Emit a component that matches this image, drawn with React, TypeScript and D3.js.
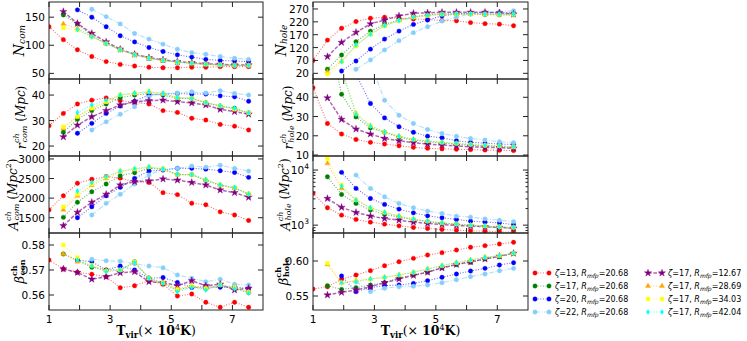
import React from "react";
import * as d3 from "d3";

const _ = null;
const TVIR = [1.0, 1.47, 1.93, 2.4, 2.87, 3.33, 3.8, 4.27, 4.73, 5.2, 5.67, 6.13, 6.6, 7.07, 7.53];

// series order: z13, z17, z20, z22 (R=20.68), then z17 with R=12.67, 28.69, 34.03, 42.04
const ZETA = [13, 17, 20, 22, 17, 17, 17, 17];
const RMFP = ["20.68", "20.68", "20.68", "20.68", "12.67", "28.69", "34.03", "42.04"];

const N_COM = [
  [133, 110, 92, 80, 71, 66, 63, 61, 60, 60, 61, 61, 62, 62, 62],
  [_, 154, 138, 117, 103, 92, 83, 77, 73, 70, 68, 66, 65, 64, 64],
  [_, _, 163, 150, 133, 117, 106, 96, 89, 83, 79, 75, 73, 72, 71],
  [_, _, _, 164, 151, 138, 121, 111, 102, 93, 87, 84, 80, 77, 75],
  [_, 160, 139, 121, 106, 93, 84, 78, 74, 71, 69, 67, 66, 65, 65],
  [_, 138, 130, 116, 103, 92, 83, 77, 73, 70, 68, 66, 65, 64, 64],
  [_, 131, 127, 115, 103, 92, 83, 77, 73, 70, 68, 66, 65, 64, 64],
  [_, _, 128, 115, 103, 92, 83, 77, 73, 70, 68, 66, 65, 64, 64],
];

const R_COM = [
  [28.0, 32.8, 36.5, 38.0, 38.9, 37.8, 37.1, 36.5, 33.9, 33.2, 30.9, 30.2, 28.5, 27.8, 26.3],
  [_, 25.4, 30.5, 33.9, 36.5, 38.9, 40.0, 40.6, 40.0, 38.7, 38.7, 37.0, 35.7, 34.8, 33.0],
  [_, _, 25.0, 28.9, 32.8, 35.7, 37.6, 40.0, 40.4, 40.6, 40.4, 40.4, 39.7, 39.3, 37.6],
  [_, _, _, 26.3, 29.5, 32.5, 35.4, 39.3, 40.6, 40.8, 41.3, 40.8, 41.7, 40.6, 40.0],
  [_, 23.6, 28.2, 31.5, 33.9, 36.1, 37.4, 37.8, 38.0, 37.4, 36.9, 36.1, 34.4, 33.5, 32.5],
  [_, 27.0, 31.8, 34.8, 37.2, 40.0, 40.6, 41.3, 40.6, 39.0, 38.7, 37.0, 35.7, 34.4, 33.0],
  [_, 27.5, 31.5, 34.8, 37.4, 40.2, 40.8, 41.3, 40.6, 39.0, 38.7, 37.0, 35.7, 34.4, 33.0],
  [_, _, 33.2, 36.1, 38.0, 40.0, 40.8, 41.3, 40.6, 39.0, 38.7, 37.0, 35.7, 34.8, 33.0],
];

const A_COM = [
  [1700, 2060, 2380, 2480, 2550, 2510, 2420, 2400, 2140, 2090, 1870, 1830, 1650, 1570, 1430],
  [_, 1510, 1893, 2163, 2360, 2571, 2648, 2760, 2735, 2600, 2600, 2450, 2330, 2260, 2100],
  [_, _, 1500, 1780, 2062, 2275, 2505, 2690, 2715, 2760, 2760, 2740, 2700, 2655, 2530],
  [_, _, _, 1570, 1867, 2097, 2360, 2590, 2740, 2760, 2820, 2790, 2840, 2760, 2690],
  [_, 1296, 1637, 1893, 2097, 2334, 2418, 2440, 2487, 2460, 2400, 2334, 2207, 2140, 2020],
  [_, 1700, 2060, 2330, 2500, 2680, 2730, 2790, 2740, 2600, 2600, 2460, 2330, 2260, 2100],
  [_, 1780, 2097, 2360, 2530, 2690, 2742, 2800, 2740, 2600, 2600, 2470, 2340, 2270, 2110],
  [_, _, 2181, 2400, 2550, 2690, 2750, 2800, 2740, 2610, 2600, 2470, 2340, 2270, 2100],
];

const B_COM = [
  [0.574, 0.5704, 0.5691, 0.5683, 0.5673, 0.5629, 0.5637, 0.5657, 0.5643, 0.5596, 0.5604, 0.5571, 0.5551, 0.5571, 0.5551],
  [_, 0.5764, 0.574, 0.5711, 0.57, 0.57, 0.5733, 0.5667, 0.5647, 0.562, 0.5633, 0.5625, 0.5636, 0.5627, 0.561],
  [_, _, 0.574, 0.5733, 0.57, 0.5716, 0.57, 0.5667, 0.567, 0.565, 0.563, 0.5633, 0.5631, 0.5633, 0.5625],
  [_, _, _, 0.5743, 0.5737, 0.5735, 0.5725, 0.5716, 0.5709, 0.568, 0.5667, 0.5653, 0.5663, 0.5643, 0.564],
  [_, 0.5704, 0.569, 0.5663, 0.5673, 0.5689, 0.5693, 0.5653, 0.565, 0.5637, 0.5657, 0.5637, 0.5643, 0.562, 0.5627],
  [_, 0.5764, 0.5733, 0.5716, 0.57, 0.57, 0.573, 0.5667, 0.5647, 0.5625, 0.5636, 0.5628, 0.564, 0.563, 0.5612],
  [_, 0.58, 0.575, 0.572, 0.5695, 0.57, 0.5733, 0.5667, 0.565, 0.5622, 0.5636, 0.5626, 0.564, 0.563, 0.5612],
  [_, _, 0.574, 0.5716, 0.5693, 0.57, 0.573, 0.5667, 0.5647, 0.5613, 0.563, 0.562, 0.564, 0.5625, 0.5608],
];

const N_HOLE = [
  [70, 149, 195, 221, 234, 238, 234, 231, 229, 225, 224, 217, 213, 211, 205],
  [_, 36, 91, 143, 184, 210, 227, 240, 247, 251, 251, 251, 248, 247, 247],
  [_, _, 29, 68, 114, 153, 184, 210, 227, 243, 251, 253, 255, 255, 255],
  [_, _, _, 36, 72, 111, 147, 178, 201, 223, 238, 251, 256, 259, 263],
  [_, 85, 140, 179, 212, 227, 243, 253, 255, 257, 257, 257, 257, 255, 250],
  [_, 26, 68, 128, 172, 205, 225, 238, 244, 249, 250, 250, 249, 248, 248],
  [_, 17, 65, 126, 172, 204, 224, 238, 244, 249, 250, 250, 249, 248, 248],
  [_, _, 65, 130, 172, 205, 225, 238, 245, 250, 251, 251, 250, 249, 249],
];

const R_HOLE = [
  [45, 26.4, 20.9, 18.1, 16.6, 15.7, 14.8, 14.0, 13.5, 13.2, 13.0, 12.8, 12.6, 12.5, 12.3],
  [_, 75, 41.6, 29.8, 24.1, 21.8, 19.2, 17.8, 16.9, 16.2, 15.7, 15.1, 14.7, 14.4, 14.0],
  [_, _, 80, 52, 36.8, 29.3, 24.7, 21.8, 19.8, 19.0, 17.4, 16.6, 16.2, 15.7, 15.5],
  [_, _, _, 90, 58, 38.5, 30.7, 26.4, 23.3, 21.2, 19.8, 18.6, 17.8, 16.9, 16.4],
  [_, 39.7, 28.5, 23.5, 20.9, 18.6, 17.4, 16.4, 15.7, 15.2, 14.7, 14.3, 14.0, 13.8, 13.5],
  [_, 110, 55, 31.6, 25.2, 22.0, 19.8, 18.1, 17.3, 16.6, 16.0, 15.5, 15.0, 14.7, 14.2],
  [_, 100, 54, 31.6, 25.2, 22.0, 19.8, 18.1, 17.3, 16.6, 16.0, 15.5, 15.0, 14.7, 14.2],
  [_, _, 54, 31.2, 25.0, 22.0, 19.8, 18.1, 17.3, 16.6, 16.0, 15.5, 15.0, 14.7, 14.2],
];

const A_HOLE = [
  [3770, 2065, 1520, 1270, 1134, 1043, 970, 907, 870, 835, 811, 788, 778, 755, 746],
  [_, 7550, 3610, 2480, 1875, 1565, 1400, 1250, 1160, 1085, 1040, 980, 940, 910, 870],
  [_, _, 9080, 4650, 3050, 2380, 1955, 1670, 1475, 1360, 1270, 1180, 1140, 1100, 1020],
  [_, _, _, 8100, 4650, 3270, 2480, 2065, 1800, 1630, 1460, 1400, 1300, 1230, 1160],
  [_, 3050, 2100, 1700, 1460, 1320, 1233, 1134, 1073, 1030, 987, 960, 940, 910, 880],
  [_, 13200, 4650, 2850, 2065, 1700, 1460, 1285, 1180, 1100, 1043, 1000, 960, 930, 908],
  [_, 16000, 5340, 2900, 2065, 1700, 1460, 1285, 1180, 1100, 1043, 1000, 960, 930, 908],
  [_, _, 5120, 2850, 2065, 1700, 1460, 1285, 1180, 1100, 1043, 1000, 960, 930, 908],
];

const B_HOLE = [
  [0.56, 0.5633, 0.5739, 0.58, 0.5862, 0.5933, 0.599, 0.6038, 0.6086, 0.6119, 0.6157, 0.6196, 0.6219, 0.6243, 0.6267],
  [_, 0.5648, 0.5595, 0.5619, 0.5657, 0.569, 0.5757, 0.58, 0.5843, 0.5905, 0.595, 0.598, 0.603, 0.606, 0.611],
  [_, _, 0.5786, 0.5562, 0.5619, 0.5648, 0.5657, 0.568, 0.5719, 0.5767, 0.5814, 0.5857, 0.5895, 0.5943, 0.5976],
  [_, _, _, 0.5705, 0.5562, 0.561, 0.5633, 0.564, 0.5657, 0.569, 0.5733, 0.5776, 0.5814, 0.586, 0.5895],
  [_, 0.5514, 0.5552, 0.5586, 0.5633, 0.569, 0.5743, 0.5795, 0.584, 0.59, 0.595, 0.599, 0.603, 0.607, 0.611],
  [_, 0.595, 0.569, 0.5719, 0.5743, 0.5767, 0.58, 0.5838, 0.5886, 0.5933, 0.5976, 0.6014, 0.6053, 0.6076, 0.611],
  [_, 0.5967, 0.569, 0.5719, 0.5743, 0.5767, 0.58, 0.5838, 0.5886, 0.5933, 0.5976, 0.6014, 0.6053, 0.6076, 0.611],
  [_, _, 0.569, 0.5705, 0.5743, 0.5767, 0.58, 0.5838, 0.5886, 0.5933, 0.5976, 0.6014, 0.6053, 0.6076, 0.611],
];

const X_TICKS = [1, 2, 3, 4, 5, 6, 7];
const X_LABELS = [1, 3, 5, 7];

// styles
const COLORS = ["#ff0000", "#008000", "#0000ff", "#87cefa", "#800080", "#ffa500", "#ffff00", "#00ffff"];
const DASHES = ["1,1.65", "1,1.65", "1,1.65", "5,1.6,1,1.6", "3.7,1.6", "1,1.65", "1,1.65", "1,1.65"];
const MARKERS = ["o", "o", "o", "o", "*", "^", "s", "d"];
const LW = [1.1, 1.1, 1.1, 1.2, 1.5, 1.1, 1.1, 1.1];

const COLS = [
  { x0: 49, x1: 263 },
  { x0: 313, x1: 528 },
];
const ROWS = [
  [2, 79],
  [79, 156],
  [156, 233],
  [233, 310],
];

const SERIF = "'DejaVu Serif', serif";
const SANS = "'DejaVu Sans', sans-serif";

function Marker({ type, x, y, color }: any) {
  if (type === "o") return <circle cx={x} cy={y} r={2.2} fill={color} stroke={color} strokeWidth={0.4} />;
  let path = "";
  if (type === "*") path = d3.symbol().type(d3.symbolStar).size(16)() as string;
  if (type === "^") path = d3.symbol().type(d3.symbolTriangle).size(11)() as string;
  if (type === "s") path = d3.symbol().type(d3.symbolSquare).size(13)() as string;
  if (type === "d") path = "M0,-2.6L1.6,0L0,2.6L-1.6,0Z";
  return <path d={path} transform={`translate(${x},${y})`} fill={color} stroke={color} strokeWidth={0.4} />;
}

const LABELS: any = {
  ncom: (
    <>
      <tspan fontStyle="italic" fontSize={14}>N</tspan>
      <tspan fontStyle="italic" fontSize={9} dy={3}>com</tspan>
    </>
  ),
  rcom: (
    <>
      <tspan fontStyle="italic" fontSize={13}>r</tspan>
      <tspan fontStyle="italic" fontSize={8} dy={-5}>ch</tspan>
      <tspan fontStyle="italic" fontSize={8} dx={-9} dy={8}>com</tspan>
      <tspan fontSize={12} dy={-3}>{" ("}</tspan>
      <tspan fontStyle="italic" fontSize={12}>Mpc</tspan>
      <tspan fontSize={12}>)</tspan>
    </>
  ),
  acom: (
    <>
      <tspan fontStyle="italic" fontSize={13}>A</tspan>
      <tspan fontStyle="italic" fontSize={8} dy={-5}>ch</tspan>
      <tspan fontStyle="italic" fontSize={8} dx={-9} dy={8}>com</tspan>
      <tspan fontSize={12} dy={-3}>{" ("}</tspan>
      <tspan fontStyle="italic" fontSize={12}>Mpc</tspan>
      <tspan fontSize={8} dy={-5}>2</tspan>
      <tspan fontSize={12} dy={5}>)</tspan>
    </>
  ),
  bcom: (
    <>
      <tspan fontStyle="italic" fontSize={13}>β</tspan>
      <tspan fontWeight="bold" fontSize={8} dy={-5}>ch</tspan>
      <tspan fontWeight="bold" fontSize={8} dx={-10} dy={8}>con</tspan>
    </>
  ),
  nhole: (
    <>
      <tspan fontStyle="italic" fontSize={14}>N</tspan>
      <tspan fontStyle="italic" fontSize={9} dy={3}>hole</tspan>
    </>
  ),
  rhole: (
    <>
      <tspan fontStyle="italic" fontSize={13}>r</tspan>
      <tspan fontStyle="italic" fontSize={8} dy={-5}>ch</tspan>
      <tspan fontStyle="italic" fontSize={8} dx={-9} dy={8}>hole</tspan>
      <tspan fontSize={12} dy={-3}>{" ("}</tspan>
      <tspan fontStyle="italic" fontSize={12}>Mpc</tspan>
      <tspan fontSize={12}>)</tspan>
    </>
  ),
  ahole: (
    <>
      <tspan fontStyle="italic" fontSize={13}>A</tspan>
      <tspan fontStyle="italic" fontSize={8} dy={-5}>ch</tspan>
      <tspan fontStyle="italic" fontSize={8} dx={-9} dy={8}>hole</tspan>
      <tspan fontSize={12} dy={-3}>{" ("}</tspan>
      <tspan fontStyle="italic" fontSize={12}>Mpc</tspan>
      <tspan fontSize={8} dy={-5}>2</tspan>
      <tspan fontSize={12} dy={5}>)</tspan>
    </>
  ),
  bhole: (
    <>
      <tspan fontStyle="italic" fontSize={13}>β</tspan>
      <tspan fontWeight="bold" fontSize={8} dy={-5}>ch</tspan>
      <tspan fontWeight="bold" fontSize={8} dx={-10} dy={8}>hole</tspan>
    </>
  ),
};

const PANELS: any[] = [
  { key: "ncom", col: 0, row: 0, data: N_COM, domain: [40, 177], ticks: [50, 100, 150], fmt: (d: number) => String(d), lx: 19 },
  { key: "rcom", col: 0, row: 1, data: R_COM, domain: [16.1, 46.3], ticks: [20, 30, 40], fmt: (d: number) => String(d), lx: 21 },
  { key: "acom", col: 0, row: 2, data: A_COM, domain: [1110, 3075], ticks: [1500, 2000, 2500, 3000], fmt: (d: number) => String(d), lx: 13 },
  { key: "bcom", col: 0, row: 3, data: B_COM, domain: [0.554, 0.5848], ticks: [0.56, 0.57, 0.58], fmt: (d: number) => d.toFixed(2), lx: 19 },
  { key: "nhole", col: 1, row: 0, data: N_HOLE, domain: [-2, 297], ticks: [20, 70, 120, 170, 220, 270], fmt: (d: number) => String(d), lx: 281 },
  { key: "rhole", col: 1, row: 1, data: R_HOLE, domain: [9.5, 49.5], ticks: [10, 20, 30, 40], fmt: (d: number) => String(d), lx: 288 },
  { key: "ahole", col: 1, row: 2, data: A_HOLE, domain: [720, 18000], ticks: [1000, 10000], log: true, fmt: null, lx: 285 },
  { key: "bhole", col: 1, row: 3, data: B_HOLE, domain: [0.53, 0.64], ticks: [0.55, 0.6], fmt: (d: number) => d.toFixed(2), lx: 283 },
];

function Panel({ p }: any) {
  const { x0, x1 } = COLS[p.col];
  const [y0, y1] = ROWS[p.row];
  const x = d3.scaleLinear().domain([1, 8]).range([x0, x1]);
  const y: any = p.log
    ? d3.scaleLog().domain(p.domain).range([y1, y0])
    : d3.scaleLinear().domain(p.domain).range([y1, y0]);
  const clipId = `clip-${p.key}`;
  const line = d3
    .line<any>()
    .x((d) => x(d[0]))
    .y((d) => y(d[1]));

  const minor: number[] = [];
  if (p.log) {
    for (const dec of [100, 1000, 10000]) {
      for (let k = 2; k <= 9; k++) {
        const v = dec * k;
        if (v > p.domain[0] && v < p.domain[1]) minor.push(v);
      }
    }
  }
  const stroke = "#222";
  return (
    <g>
      <clipPath id={clipId}>
        <rect x={x0} y={y0} width={x1 - x0} height={y1 - y0} />
      </clipPath>
      <g clipPath={`url(#${clipId})`}>
        {p.data.map((vals: any[], si: number) => {
          const pts = TVIR.map((t, i) => [t, vals[i]]).filter((d) => d[1] !== null);
          return (
            <g key={si}>
              <path
                d={line(pts) as string}
                fill="none"
                stroke={COLORS[si]}
                strokeWidth={LW[si]}
                strokeDasharray={DASHES[si]}
                strokeOpacity={0.6}
              />
              {pts.map((d, i) => (
                <Marker key={i} type={MARKERS[si]} x={x(d[0])} y={y(d[1])} color={COLORS[si]} />
              ))}
            </g>
          );
        })}
      </g>
      <rect x={x0} y={y0} width={x1 - x0} height={y1 - y0} fill="none" stroke={stroke} strokeWidth={1} />
      {X_TICKS.map((t) => (
        <g key={t}>
          <line x1={x(t)} x2={x(t)} y1={y1} y2={y1 - 5} stroke={stroke} />
          <line x1={x(t)} x2={x(t)} y1={y0} y2={y0 + 5} stroke={stroke} />
        </g>
      ))}
      {p.ticks.map((t: number) => (
        <g key={t}>
          <line x1={x0} x2={x0 + 5} y1={y(t)} y2={y(t)} stroke={stroke} />
          <line x1={x1} x2={x1 - 5} y1={y(t)} y2={y(t)} stroke={stroke} />
          {p.log ? (
            <text x={x0 - 4} y={y(t) + 4} textAnchor="end" fontFamily={SANS} fontSize={10.5}>
              <tspan>10</tspan>
              <tspan fontSize={7.5} dy={-5}>{Math.round(Math.log10(t))}</tspan>
            </text>
          ) : (
            <text x={x0 - 4} y={y(t)} dominantBaseline="central" textAnchor="end" fontFamily={SANS} fontSize={10.5}>
              {p.fmt(t)}
            </text>
          )}
        </g>
      ))}
      {minor.map((t) => (
        <g key={t}>
          <line x1={x0} x2={x0 + 2.5} y1={y(t)} y2={y(t)} stroke={stroke} />
          <line x1={x1} x2={x1 - 2.5} y1={y(t)} y2={y(t)} stroke={stroke} />
        </g>
      ))}
      {p.row === 3 &&
        X_LABELS.map((t) => (
          <text key={t} x={x(t)} y={y1 + 8.5} textAnchor="middle" dominantBaseline="central" fontFamily={SANS} fontSize={10.5}>
            {t}
          </text>
        ))}
      <text
        transform={`translate(${p.lx},${(y0 + y1) / 2}) rotate(-90)`}
        textAnchor="middle"
        dominantBaseline="central"
        fontFamily={SERIF}
      >
        {LABELS[p.key]}
      </text>
    </g>
  );
}

function XLabel({ cx }: any) {
  return (
    <text x={cx} y={335} textAnchor="middle" fontFamily={SERIF} fontSize={12.5}>
      <tspan fontWeight="bold">T</tspan>
      <tspan fontWeight="bold" fontSize={8.5} dy={2.5}>vir</tspan>
      <tspan dy={-2.5}>(</tspan>
      <tspan>× </tspan>
      <tspan fontWeight="bold">10</tspan>
      <tspan fontSize={8} dy={-5}>4</tspan>
      <tspan fontWeight="bold" dy={5}>K</tspan>
      <tspan>)</tspan>
    </text>
  );
}

function LegendItem({ si, lx, ly }: any) {
  return (
    <g>
      <line x1={lx} x2={lx + 14} y1={ly} y2={ly} stroke={COLORS[si]} strokeWidth={LW[si]} strokeDasharray={DASHES[si]} strokeOpacity={0.6} />
      <Marker type={MARKERS[si]} x={lx} y={ly} color={COLORS[si]} />
      <Marker type={MARKERS[si]} x={lx + 14} y={ly} color={COLORS[si]} />
      <text x={lx + 20} y={ly} dominantBaseline="central" fontFamily={SANS} fontSize={8}>
        <tspan fontStyle="italic">ζ</tspan>
        <tspan>={ZETA[si]}, </tspan>
        <tspan fontStyle="italic">R</tspan>
        <tspan fontStyle="italic" fontSize={6} dy={2}>mfp</tspan>
        <tspan dy={-2}>={RMFP[si]}</tspan>
      </text>
    </g>
  );
}

export default function App() {
  return (
    <svg width={747} height={341} style={{ position: "absolute", left: 0, top: 0, background: "#fff" }}>
      {PANELS.map((p) => (
        <Panel key={p.key} p={p} />
      ))}
      <XLabel cx={(COLS[0].x0 + COLS[0].x1) / 2} />
      <XLabel cx={(COLS[1].x0 + COLS[1].x1) / 2} />
      {[0, 1, 2, 3].map((i) => (
        <LegendItem key={i} si={i} lx={535} ly={273 + i * 13} />
      ))}
      {[4, 5, 6, 7].map((i) => (
        <LegendItem key={i} si={i} lx={648} ly={273 + (i - 4) * 13} />
      ))}
    </svg>
  );
}
